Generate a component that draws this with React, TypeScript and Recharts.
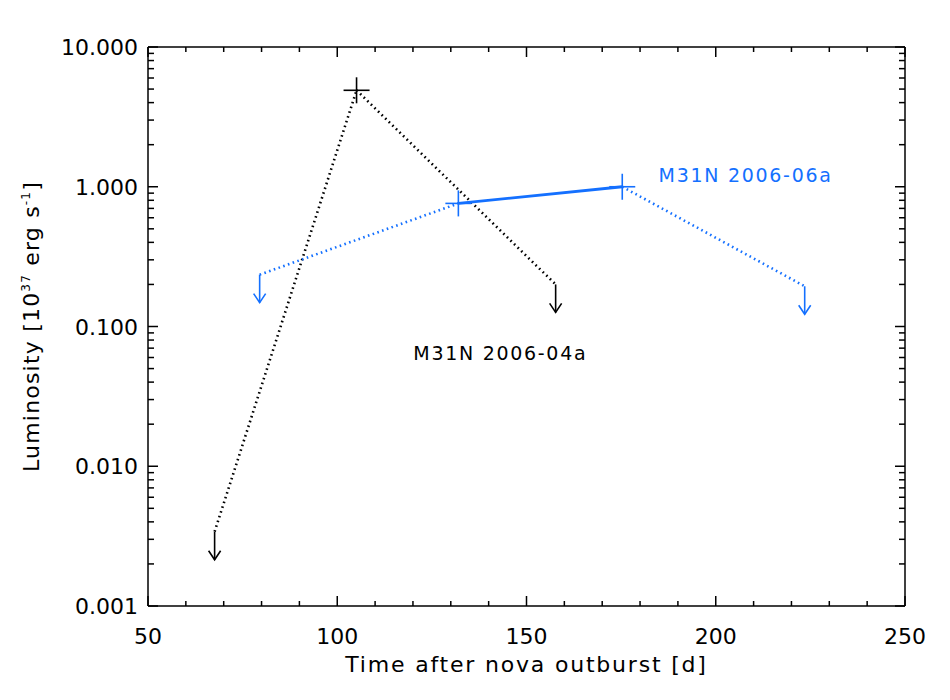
import { ScatterChart, Scatter, XAxis, YAxis, ReferenceDot } from 'recharts';

const font = '"DejaVu Sans", sans-serif';
const blue = '#1470ff';

// M31N 2006-04a (days after outburst, luminosity in 1e37 erg/s, upper limit?)
const nova04Days = [67.6, 105.1, 157.7];
const nova04Lum = [0.0034, 4.9, 0.2];
const nova04Limit = [true, false, true];

// M31N 2006-06a
const nova06Days = [79.5, 132.0, 175.3, 223.5];
const nova06Lum = [0.235, 0.76, 1.0, 0.194];
const nova06Limit = [true, false, false, true];

const xMajor = [50, 100, 150, 200, 250];
const xMinor = [60, 70, 80, 90, 110, 120, 130, 140, 160, 170, 180, 190, 210, 220, 230, 240];
const yMajor = [0.001, 0.01, 0.1, 1, 10];
const yMajorLabels = ['0.001', '0.010', '0.100', '1.000', '10.000'];
const yMinorMult = [2, 3, 4, 5, 6, 7, 8, 9];

const labelNames = ['M31N 2006-04a', 'M31N 2006-06a'];
const labelDays = [120.1, 184.9];
const labelLum = [0.065, 1.21];
const labelColors = ['#000', blue];

const toPoints = (days: number[], lum: number[], limit: boolean[]) =>
  days.map((t, i) => ({ t, lum: lum[i], limit: limit[i] }));

const nova04 = toPoints(nova04Days, nova04Lum, nova04Limit);
const nova06 = toPoints(nova06Days, nova06Lum, nova06Limit);

// consecutive pairs; dotted if an end is an upper limit
const segments = (pts: any[]) =>
  pts.slice(1).map((p, i) => ({ data: [pts[i], p], dotted: pts[i].limit || p.limit }));

const xTicks = [...xMajor, ...xMinor].sort((a, b) => a - b);
const yTicks = yMajor.flatMap((d, i) => (i < yMajor.length - 1 ? [d, ...yMinorMult.map(m => m * d)] : [d]));

const isMajorY = (v: number) => yMajor.some(m => Math.abs(m - v) < m * 1e-6);

const BottomTick = ({ x, y, payload }: any) => {
  const major = xMajor.includes(payload.value);
  return (
    <g>
      <line x1={x} x2={x} y1={y} y2={y - (major ? 10 : 5)} stroke="#000" strokeWidth={1.5} />
      {major && (
        <text x={x} y={y + 38} textAnchor="middle" fontSize={22} fontFamily={font} fill="#000">
          {payload.value}
        </text>
      )}
    </g>
  );
};

const TopTick = ({ x, y, payload }: any) => {
  const major = xMajor.includes(payload.value);
  return <line x1={x} x2={x} y1={y} y2={y + (major ? 10 : 5)} stroke="#000" strokeWidth={1.5} />;
};

const LeftTick = ({ x, y, payload }: any) => {
  const major = isMajorY(payload.value);
  const idx = yMajor.findIndex(m => Math.abs(m - payload.value) < m * 1e-6);
  return (
    <g>
      <line x1={x} x2={x + (major ? 10 : 6)} y1={y} y2={y} stroke="#000" strokeWidth={1.5} />
      {major && (
        <text x={x - 10} y={y + 8} textAnchor="end" fontSize={22} fontFamily={font} fill="#000">
          {yMajorLabels[idx]}
        </text>
      )}
    </g>
  );
};

const RightTick = ({ x, y, payload }: any) => {
  const major = isMajorY(payload.value);
  return <line x1={x} x2={x - (major ? 10 : 6)} y1={y} y2={y} stroke="#000" strokeWidth={1.5} />;
};

const makeMarker = (color: string) => (props: any) => {
  const { cx, cy, payload } = props;
  if (payload.limit) {
    return (
      <g stroke={color} strokeWidth={1.6} fill="none">
        <line x1={cx} x2={cx} y1={cy} y2={cy + 28} />
        <polyline points={`${cx - 6},${cy + 19} ${cx},${cy + 28} ${cx + 6},${cy + 19}`} />
      </g>
    );
  }
  return (
    <g stroke={color} strokeWidth={1.6}>
      <line x1={cx - 13} x2={cx + 13} y1={cy} y2={cy} />
      <line x1={cx} x2={cx} y1={cy - 13} y2={cy + 13} />
    </g>
  );
};

const noShape = () => <g />;

const XTitle = ({ viewBox }: any) => (
  <text
    x={viewBox.x + viewBox.width / 2}
    y={viewBox.y + 66}
    textAnchor="middle"
    fontSize={22}
    letterSpacing={1.8}
    fontFamily={font}
    fill="#000"
  >
    Time after nova outburst [d]
  </text>
);

const YTitle = ({ viewBox }: any) => {
  const cx = 39;
  const cy = viewBox.y + viewBox.height / 2;
  return (
    <text
      transform={`rotate(-90 ${cx} ${cy})`}
      x={cx}
      y={cy}
      textAnchor="middle"
      fontSize={22}
      letterSpacing={1.2}
      fontFamily={font}
      fill="#000"
    >
      Luminosity [10<tspan dy={-9} fontSize={12}>37</tspan>
      <tspan dy={9}> erg s</tspan>
      <tspan dy={-9} fontSize={12}>-1</tspan>
      <tspan dy={9}>]</tspan>
    </text>
  );
};

export default function App() {
  const axisLine = { stroke: '#000', strokeWidth: 1.5 };
  const dotted = { strokeWidth: 2.6, strokeDasharray: '1.6 3.4' };
  return (
    <div style={{ position: 'absolute', left: 0, top: 0, background: '#fff' }}>
      <ScatterChart width={950} height={700} margin={{ top: 46, right: 44, bottom: 34, left: 68 }}>
        <XAxis
          type="number"
          dataKey="t"
          domain={[50, 250]}
          ticks={xTicks}
          interval={0}
          allowDataOverflow
          height={60}
          tickSize={0}
          tickMargin={0}
          tickLine={false}
          axisLine={axisLine}
          tick={<BottomTick />}
          label={{ content: (p: any) => <XTitle viewBox={p.viewBox} /> }}
        />
        <XAxis
          xAxisId="top"
          orientation="top"
          type="number"
          dataKey="t"
          domain={[50, 250]}
          ticks={xTicks}
          interval={0}
          allowDataOverflow
          height={1}
          tickSize={0}
          tickMargin={0}
          tickLine={false}
          axisLine={axisLine}
          tick={<TopTick />}
        />
        <YAxis
          type="number"
          dataKey="lum"
          scale="log"
          domain={[0.001, 10]}
          ticks={yTicks}
          interval={0}
          allowDataOverflow
          width={80}
          tickSize={0}
          tickMargin={0}
          tickLine={false}
          axisLine={axisLine}
          tick={<LeftTick />}
          label={{ content: (p: any) => <YTitle viewBox={p.viewBox} /> }}
        />
        <YAxis
          yAxisId="right"
          orientation="right"
          type="number"
          dataKey="lum"
          scale="log"
          domain={[0.001, 10]}
          ticks={yTicks}
          interval={0}
          allowDataOverflow
          width={1}
          tickSize={0}
          tickMargin={0}
          tickLine={false}
          axisLine={axisLine}
          tick={<RightTick />}
        />

        {segments(nova04).map((s, i) => (
          <Scatter
            key={`b${i}`}
            data={s.data}
            line={{ stroke: '#000', ...dotted }}
            lineType="joint"
            shape={noShape}
            isAnimationActive={false}
          />
        ))}
        {segments(nova06).map((s, i) => (
          <Scatter
            key={`u${i}`}
            data={s.data}
            line={s.dotted ? { stroke: blue, ...dotted } : { stroke: blue, strokeWidth: 2.8 }}
            lineType="joint"
            shape={noShape}
            isAnimationActive={false}
          />
        ))}
        <Scatter data={nova04} shape={makeMarker('#000')} isAnimationActive={false} />
        <Scatter data={nova06} shape={makeMarker(blue)} isAnimationActive={false} />
        {/* dummy series so the top and right axes get rendered */}
        <Scatter data={nova04} xAxisId="top" yAxisId="right" shape={noShape} isAnimationActive={false} />

        {labelNames.map((name, i) => (
          <ReferenceDot
            key={name}
            x={labelDays[i]}
            y={labelLum[i]}
            ifOverflow="visible"
            shape={(p: any) => (
              <text x={p.cx} y={p.cy + 7} fontSize={19} letterSpacing={1.7} fontFamily={font} fill={labelColors[i]}>
                {name}
              </text>
            )}
          />
        ))}
      </ScatterChart>
    </div>
  );
}
